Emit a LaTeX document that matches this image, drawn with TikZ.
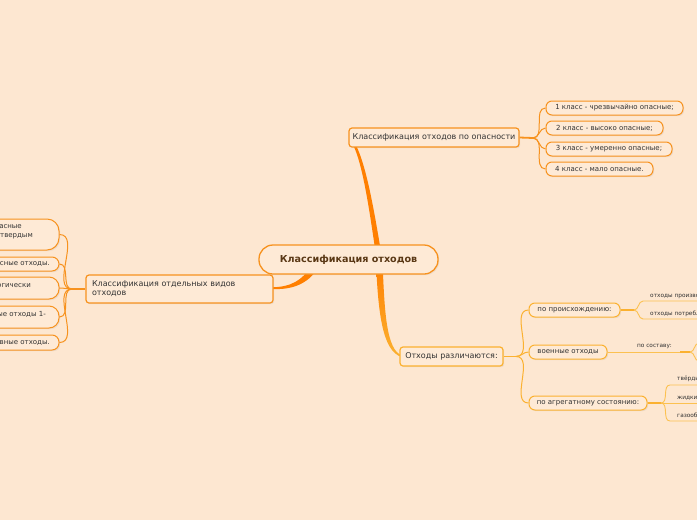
\documentclass[tikz,border=0pt]{standalone}
\usepackage{fontspec}
\setmainfont{DejaVu Sans}
\usetikzlibrary{shadows,calc}
\definecolor{bg}{HTML}{FDE7D1}
\definecolor{nfill}{HTML}{FEEAD6}
\definecolor{ob}{HTML}{F7921E}
\definecolor{om}{HTML}{FF7F00}
\definecolor{yb}{HTML}{FBB130}
\definecolor{yl}{HTML}{FCC150}
\definecolor{txt}{HTML}{333333}
\definecolor{ctxt}{HTML}{5A3815}
\tikzset{
  shad/.style={drop shadow={shadow xshift=1.2pt,shadow yshift=-1.2pt,opacity=0.12}},
  cbox/.style={draw=ob,line width=1.3,fill=nfill,rounded corners=14,inner sep=0,shad,
    font=\fontsize{9.6}{11}\selectfont\bfseries,text=ctxt},
  lone/.style={draw=ob,line width=1.2,fill=nfill,rounded corners=3,inner sep=0,shad,
    font=\fontsize{8}{9.2}\selectfont,text=txt},
  ltwo/.style={draw=ob,line width=1,fill=nfill,rounded corners=6,inner sep=0,shad,
    font=\fontsize{7}{8}\selectfont,text=txt},
  ytwo/.style={ltwo,draw=yb},
  lbig/.style={ltwo,rounded corners=10},
  ltxt/.style={inner sep=0,font=\fontsize{7}{8}\selectfont,text=txt},
  tiny/.style={inner sep=0,font=\fontsize{5.8}{7}\selectfont,text=txt},
  oline/.style={draw=ob,line width=1},
  ostub/.style={draw=ob,line width=1.8},
  yline/.style={draw=yb,line width=1},
  ystub/.style={draw=yb,line width=1.8},
  uline/.style={draw=yl,line width=0.9},
}
\begin{document}
\begin{tikzpicture}[x=1pt,y=-1pt]
\useasboundingbox (0,0) rectangle (697,520);
\fill[bg] (0,0) rectangle (697,520);

% main tapered connectors
\fill[om] (375.5,252) .. controls (368,200) and (361,155) .. (350,139.5)
   -- (352,138.5) .. controls (364,155) and (372.5,200) .. (381,252) -- cycle;
\shade[top color=om,bottom color=yb] (376,262) .. controls (378,310) and (382,352) .. (402,357)
   -- (402,355.5) .. controls (386,350) and (384.5,310) .. (382.5,262) -- cycle;
\fill[om] (312,264) .. controls (303,281) and (290,287) .. (272,287.3)
   -- (272,289) .. controls (292,290) and (308,284) .. (318,268) -- cycle;

% nodes
\node[cbox,minimum width=179,minimum height=29] (cen) at (348.5,259.5) {Классификация отходов};
\node[lone,minimum width=170,minimum height=19] (tr) at (434,137.5) {Классификация отходов по опасности};
\node[lone,draw=yb,minimum width=103,minimum height=19] (br) at (451.5,356.5) {Отходы различаются:};
\node[lone,minimum width=187,minimum height=28,text width=175,align=left] (lm) at (179.5,289)
  {Классификация отдельных видов\\отходов};

\node[ltwo,minimum width=137,minimum height=14] (c1) at (614.5,108) {1 класс - чрезвычайно опасные;};
\node[ltwo,minimum width=117,minimum height=14] (c2) at (604.5,128) {2 класс - высоко опасные;};
\node[ltwo,minimum width=126,minimum height=14] (c3) at (609,149) {3 класс - умеренно опасные;};
\node[ltwo,minimum width=107,minimum height=14] (c4) at (599.5,169) {4 класс - мало опасные.};

\node[ytwo,minimum width=91,minimum height=14] (b1) at (574.5,310) {по происхождению:};
\node[ytwo,minimum width=78,minimum height=14] (b2) at (568,352) {военные отходы};
\node[ytwo,minimum width=118,minimum height=14] (b3) at (588,403) {по агрегатному состоянию:};

\node[lbig,minimum width=159,minimum height=31,rounded corners=12] (L1) at (-20.5,234.5) {};
\node[lbig,minimum width=159,minimum height=14,rounded corners=7] (L2) at (-20.5,264) {};
\node[lbig,minimum width=159,minimum height=22] (L3) at (-20.5,288) {};
\node[lbig,minimum width=159,minimum height=22] (L4) at (-20.5,317) {};
\node[lbig,minimum width=159,minimum height=15,rounded corners=7] (L5) at (-20.5,342.5) {};
\node[ltxt,anchor=east] (L1a) at (22,227) {асные};
\node[ltxt,anchor=east] (L1b) at (33,236) {к твердым};
\node[ltxt,anchor=east] (L2a) at (50,264) {сные отходы.};
\node[ltxt,anchor=east] (L3a) at (31,286) {огически};
\node[ltxt,anchor=east] (L4a) at (46,314) {ые отходы 1-};
\node[ltxt,anchor=east] (L5a) at (50,343) {вные отходы.};

% junctions
\coordinate (jt) at (533,138);
\coordinate (jl) at (72,289);
\coordinate (jb) at (516,356.5);
\coordinate (jp) at (634,310);
\coordinate (jm) at (690,352);
\coordinate (ja) at (661,403);

% top-right children
\draw[ostub] (tr.east) -- (jt);
\foreach \n in {c1,c2,c3,c4} \draw[oline] (jt) to[out=0,in=180] (\n.west);
% left children
\draw[ostub] (lm.west) -- (jl);
\foreach \n in {L1,L2,L3,L4,L5} \draw[oline] (jl) to[out=180,in=0] (\n.east);
% bottom children
\draw[ystub] (br.east) -- (jb);
\foreach \n in {b1,b2,b3} \draw[yline] (jb) to[out=0,in=180] (\n.west);

% level 3: origin
\coordinate (p1) at (643,301); \coordinate (p1e) at (700,301);
\coordinate (p2) at (643,319); \coordinate (p2e) at (700,319);
\draw[ystub] (b1.east) -- (jp);
\draw[uline] (jp) to[out=0,in=180] (p1) -- (p1e);
\draw[uline] (jp) to[out=0,in=180] (p2) -- (p2e);
\node[tiny,anchor=base west] (o1) at (650,297) {отходы производства};
\node[tiny,anchor=base west] (o2) at (650,315) {отходы потребления};

% level 3: military
\coordinate (m1) at (699,343); \coordinate (m2) at (699,361);
\draw[uline] (b2.east) -- (jm);
\draw[yb,line width=1.8] (680,352) -- (jm);
\draw[uline] (jm) to[out=0,in=180] (m1);
\draw[uline] (jm) to[out=0,in=180] (m2);
\node[tiny,anchor=base] (sost) at (654.5,347.5) {по составу:};

% level 3: state
\coordinate (a1) at (670,385); \coordinate (a1e) at (700,385);
\coordinate (a2e) at (700,403);
\coordinate (a3) at (670,421); \coordinate (a3e) at (700,421);
\draw[ystub] (b3.east) -- (ja);
\draw[uline] (ja) to[out=0,in=180] (a1) -- (a1e);
\draw[uline] (ja) -- (a2e);
\draw[uline] (ja) to[out=0,in=180] (a3) -- (a3e);
\node[tiny,anchor=base west] (s1) at (677,380.5) {твёрдые};
\node[tiny,anchor=base west] (s2) at (677,399) {жидкие};
\node[tiny,anchor=base west] (s3) at (677,417) {газообразные};
\end{tikzpicture}
\end{document}
